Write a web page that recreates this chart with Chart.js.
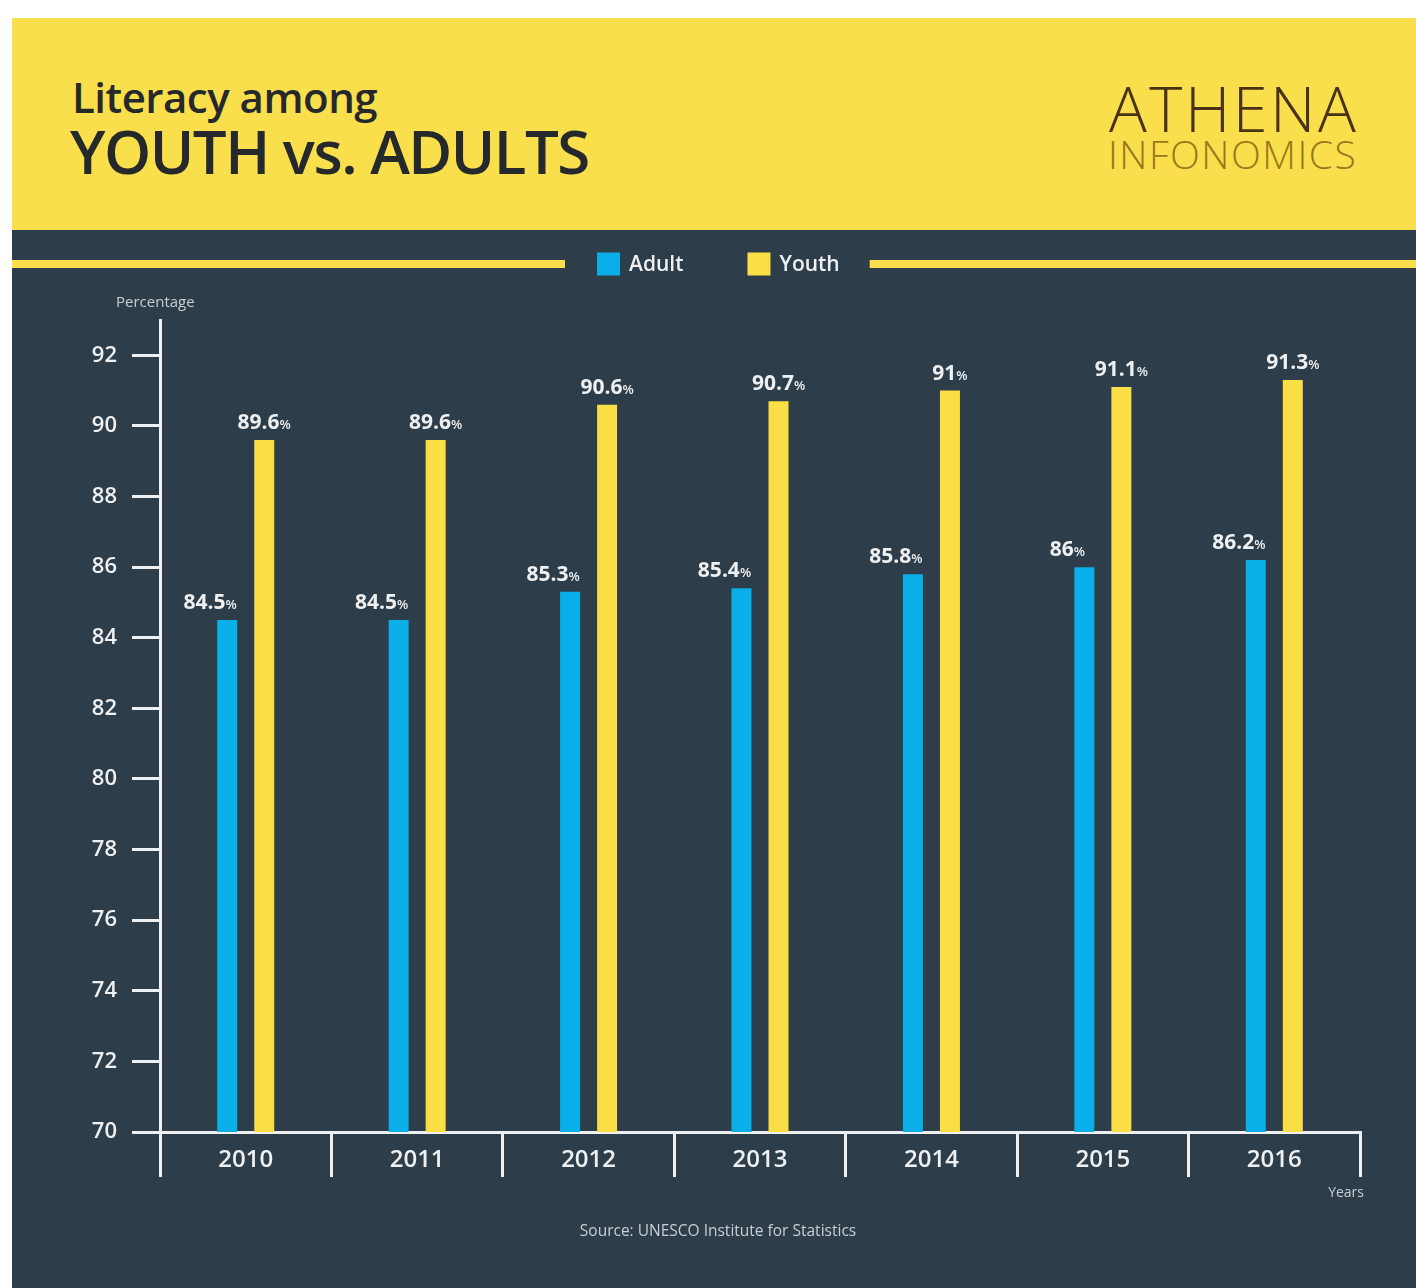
<!DOCTYPE html>
<html>
<head>
<meta charset="utf-8">
<script src="https://cdn.jsdelivr.net/npm/chart.js@4.4.1/dist/chart.umd.min.js"></script>
<style>
  body { margin: 0; background: #ffffff; width: 1416px; height: 1288px; position: relative; overflow: hidden; }
  #head { position: absolute; left: 12px; top: 18px; width: 1404px; height: 212px; background: #f9df4b; font-family: "Open Sans", sans-serif; }
  #t1 { position: absolute; left: 60px; top: 58px; font-size: 42px; font-weight: 600; color: #26292b; letter-spacing: -0.5px; line-height: 1; }
  #t2 { position: absolute; left: 58px; top: 103px; font-size: 60px; font-weight: 600; color: #26292b; letter-spacing: -1.5px; line-height: 1; }
  #logo1 { position: absolute; left: 1097px; top: 58px; font-size: 63px; font-weight: 300; color: #4a3218; line-height: 1; letter-spacing: 2.5px; }
  #logo2 { position: absolute; left: 1096px; top: 116px; font-size: 39px; font-weight: 300; color: #9a761c; line-height: 1; letter-spacing: 1.5px; }
  #wrap { position: absolute; left: 12px; top: 230px; width: 1404px; height: 1058px; background: #2e3d4a; }
</style>
</head>
<body>
<div id="head">
  <div id="t1">Literacy among</div>
  <div id="t2">YOUTH vs. ADULTS</div>
  <div id="logo1">ATHENA</div>
  <div id="logo2">INFONOMICS</div>
</div>
<div id="wrap"><canvas id="myChart" width="1404" height="1058"></canvas></div>
<script>
const years = ["2010", "2011", "2012", "2013", "2014", "2015", "2016"];
const adultValues = [84.5, 84.5, 85.3, 85.4, 85.8, 86, 86.2];
const youthValues = [89.6, 89.6, 90.6, 90.7, 91, 91.1, 91.3];
const yTicks = [70, 72, 74, 76, 78, 80, 82, 84, 86, 88, 90, 92];

const FONT = '"Open Sans", sans-serif';
const WHITE = "#eef0f1";

// legend with the yellow rule either side, plus the small captions
const decor = {
  id: "decor",
  afterDraw(chart) {
    const ctx = chart.ctx;
    ctx.save();
    // legend
    ctx.font = "600 21px " + FONT;
    ctx.textBaseline = "middle";
    let x = 585;
    const ly = 34;
    const items = chart.data.datasets.map(d => ({ label: d.label, color: d.backgroundColor }));
    let positions = [];
    items.forEach((it, i) => {
      const w = ctx.measureText(it.label).width;
      positions.push({ x, w, it });
      x += 23 + 9 + w + 64;
    });
    const legLeft = positions[0].x;
    const last = positions[positions.length - 1];
    const legRight = last.x + 23 + 9 + last.w;
    ctx.fillStyle = "#f9df4b";
    ctx.fillRect(0, 30, legLeft - 32, 8);
    ctx.fillRect(legRight + 30, 30, chart.width - legRight - 30, 8);
    positions.forEach(p => {
      ctx.fillStyle = p.it.color;
      ctx.fillRect(p.x, ly - 11.5, 23, 23);
      ctx.fillStyle = WHITE;
      ctx.textAlign = "left";
      ctx.fillText(p.it.label, p.x + 32, ly + 1);
    });
    // captions
    ctx.fillStyle = "#c9ced2";
    ctx.font = "500 15px " + FONT;
    ctx.textAlign = "left";
    ctx.fillText("Percentage", 104, 73);
    ctx.font = "500 14px " + FONT;
    ctx.textAlign = "right";
    ctx.fillText("Years", 1352, 963);
    ctx.font = "500 15.5px " + FONT;
    ctx.textAlign = "center";
    ctx.fillText("Source: UNESCO Institute for Statistics", 706, 1002);
    ctx.restore();
  }
};

// value labels above bars, number bold with a smaller % sign
const valueLabels = {
  id: "valueLabels",
  afterDatasetsDraw(chart) {
    const ctx = chart.ctx;
    ctx.save();
    ctx.fillStyle = WHITE;
    ctx.textBaseline = "alphabetic";
    ctx.textAlign = "left";
    chart.data.datasets.forEach((ds, di) => {
      const meta = chart.getDatasetMeta(di);
      const shift = di === 0 ? -17 : 0;
      meta.data.forEach((bar, i) => {
        const num = String(ds.data[i]);
        ctx.font = "700 21px " + FONT;
        const w1 = ctx.measureText(num).width;
        ctx.font = "600 13px " + FONT;
        const w2 = ctx.measureText("%").width;
        const left = bar.x + shift - (w1 + w2) / 2;
        const y = bar.y - 11;
        ctx.font = "700 21px " + FONT;
        ctx.fillText(num, left, y);
        ctx.font = "600 13px " + FONT;
        ctx.fillText("%", left + w1, y);
      });
    });
    ctx.restore();
  }
};

const ctx = document.getElementById("myChart");
new Chart(ctx, {
  type: "bar",
  data: {
    labels: years,
    datasets: [
      { label: "Adult", data: adultValues, backgroundColor: "#0aafe9" },
      { label: "Youth", data: youthValues, backgroundColor: "#f9df45" }
    ]
  },
  options: {
    responsive: false,
    animation: false,
    events: [],
    categoryPercentage: 0.432,
    barPercentage: 0.54,
    layout: { padding: { top: 90, right: 56, bottom: 96, left: 0 } },
    plugins: {
      legend: { display: false },
      tooltip: { enabled: false }
    },
    scales: {
      x: {
        grid: { drawOnChartArea: false, drawTicks: true, tickLength: 45, color: WHITE, lineWidth: 3, offset: true },
        border: { display: true, color: WHITE, width: 3 },
        ticks: { color: WHITE, padding: -31, font: { family: FONT, size: 24, weight: 600 } },
        afterFit(s) { s.height = 60; }
      },
      y: {
        min: 70,
        max: 93,
        afterBuildTicks(s) { s.ticks = yTicks.map(v => ({ value: v })); },
        grid: { drawOnChartArea: false, drawTicks: true, tickLength: 28, color: WHITE, lineWidth: 3 },
        border: { display: true, color: WHITE, width: 3 },
        ticks: { color: WHITE, padding: 15, font: { family: FONT, size: 22, weight: 600 } },
        afterFit(s) { s.width = 148; }
      }
    }
  },
  plugins: [decor, valueLabels]
});
</script>
</body>
</html>
